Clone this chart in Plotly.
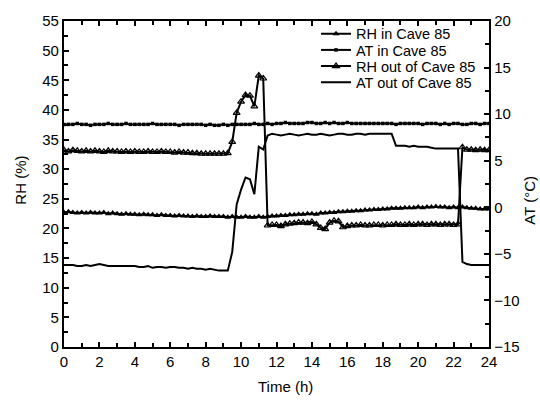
import plotly.graph_objects as go

# time axis (h), 15-min sampling
time_h = [i * 0.25 for i in range(97)]

rh_in = [22.7,22.8,22.7,22.6,22.7,22.6,22.7,22.6,22.6,22.7,22.5,22.6,
         22.5,22.4,22.5,22.4,22.4,22.3,22.4,22.3,22.3,22.2,22.3,22.2,
         22.2,22.1,22.2,22.1,22.1,22.0,22.1,22.0,22.0,22.1,22.0,22.0,
         22.0,21.9,22.0,21.9,21.9,22.0,21.9,21.9,22.0,21.9,22.0,22.1,
         22.1,22.2,22.2,22.3,22.3,22.4,22.4,22.5,22.5,22.4,22.6,22.6,
         22.7,22.7,22.8,22.8,22.9,22.9,23.0,23.0,23.1,23.1,23.2,23.2,
         23.3,23.3,23.4,23.4,23.4,23.5,23.5,23.5,23.6,23.5,23.6,23.6,
         23.7,23.6,23.6,23.5,23.6,23.5,23.6,23.5,23.4,23.4,23.3,23.3,23.3]

at_in = [8.9,8.9,8.9,9.0,8.9,8.9,8.8,8.9,8.9,8.9,9.0,8.9,
         8.9,8.9,9.0,8.9,8.9,8.9,8.9,8.9,9.0,8.9,8.9,8.9,
         8.9,8.9,8.8,8.9,8.9,8.9,8.9,8.9,8.8,8.9,8.8,8.8,
         8.9,8.8,8.9,8.9,8.9,8.9,8.9,9.0,8.9,8.9,9.0,8.9,
         9.0,9.0,9.1,9.0,9.0,9.0,9.0,9.1,9.1,9.0,9.0,9.1,
         9.0,9.1,9.0,9.0,9.1,9.0,9.0,9.0,9.0,9.0,9.0,9.0,
         9.0,9.0,9.0,8.9,9.0,9.0,9.0,9.0,9.0,8.9,9.0,9.0,
         9.0,8.9,9.0,8.9,9.0,9.0,8.9,8.9,9.0,9.0,8.9,9.0,9.0]

rh_out = [33.2,33.0,33.2,33.1,33.0,33.1,33.0,33.1,33.0,32.9,33.1,33.0,
          33.0,32.9,33.0,32.9,33.0,32.9,32.9,33.0,32.9,32.9,33.0,32.9,
          32.9,32.8,32.9,32.8,32.8,32.7,32.7,32.6,32.6,32.6,32.6,32.6,
          32.6,32.7,34.6,39.5,41.4,42.5,42.4,40.6,45.8,45.3,20.5,20.6,
          20.6,20.4,20.7,20.8,20.9,21.0,21.0,20.9,21.1,20.7,20.1,19.9,
          21.0,21.3,21.2,20.2,20.4,20.5,20.5,20.6,20.5,20.5,20.6,20.6,
          20.5,20.6,20.6,20.7,20.6,20.6,20.7,20.6,20.7,20.7,20.6,20.7,
          20.7,20.6,20.7,20.7,20.6,20.7,33.7,33.3,33.3,33.2,33.3,33.2,33.2]

at_out = [-6.2,-6.2,-6.2,-6.3,-6.3,-6.2,-6.3,-6.2,-6.1,-6.2,-6.3,-6.3,
          -6.3,-6.3,-6.3,-6.3,-6.3,-6.4,-6.4,-6.3,-6.5,-6.4,-6.4,-6.5,
          -6.4,-6.4,-6.5,-6.5,-6.6,-6.5,-6.6,-6.6,-6.7,-6.6,-6.7,-6.8,
          -6.8,-6.8,-4.8,0.3,1.9,3.2,3.0,1.4,6.5,6.2,7.7,7.9,
          7.8,7.7,7.8,7.9,7.8,7.7,7.8,7.9,7.8,7.8,7.9,7.8,
          7.7,7.8,7.9,7.9,7.8,7.8,7.9,7.9,7.8,7.9,7.9,7.9,
          7.9,7.9,7.9,6.6,6.6,6.6,6.5,6.6,6.5,6.5,6.5,6.4,
          6.3,6.3,6.3,6.3,6.3,6.3,-5.85,-6.1,-6.2,-6.2,-6.2,-6.2,-6.2]

FONT = "Arial, Liberation Sans, sans-serif"
LW = 2

fig = go.Figure()
fig.add_trace(go.Scatter(x=time_h, y=rh_in, name="RH in Cave 85", mode="lines+markers",
                         legend="legend",
                         line=dict(color="black", width=LW),
                         marker=dict(symbol="triangle-up", size=6, color="black")))
fig.add_trace(go.Scatter(x=time_h, y=at_in, name="AT in Cave 85", mode="lines+markers", yaxis="y2",
                         legend="legend2",
                         line=dict(color="black", width=LW),
                         marker=dict(symbol="square", size=3.5, color="black")))
fig.add_trace(go.Scatter(x=time_h, y=rh_out, name="RH out of Cave 85", mode="lines+markers",
                         legend="legend3",
                         line=dict(color="black", width=LW),
                         marker=dict(symbol="triangle-up-open", size=6, color="black",
                                     line=dict(width=1.2, color="black"))))
fig.add_trace(go.Scatter(x=time_h, y=at_out, name="AT out of Cave 85", mode="lines", yaxis="y2",
                         legend="legend4",
                         line=dict(color="black", width=LW)))

axis_common = dict(showline=True, linecolor="black", linewidth=2.3, ticks="inside",
                   tickcolor="black", tickwidth=2, ticklen=5, showgrid=False, zeroline=False,
                   tickfont=dict(family=FONT, size=15, color="black"))
minor_common = dict(ticks="inside", ticklen=3.5, tickcolor="black", tickwidth=2)

leg_x = 0.593
def leg(y):
    return dict(x=leg_x, y=y, xanchor="left", yanchor="middle", bgcolor="rgba(0,0,0,0)",
                font=dict(family=FONT, size=14.5, color="black"), itemwidth=30,
                borderwidth=0)

title_font = dict(family=FONT, size=15, color="black")

fig.update_layout(
    width=540, height=401,
    margin=dict(l=63.5, r=51, t=15, b=54),
    paper_bgcolor="white", plot_bgcolor="white",
    font=dict(family=FONT, color="black"),
    xaxis=dict(range=[0, 24], tickvals=list(range(0, 25, 2)), mirror="ticks",
               minor=dict(dtick=1, **minor_common), **axis_common),
    yaxis=dict(range=[0, 55], dtick=5, minor=dict(dtick=2.5, **minor_common), **axis_common),
    yaxis2=dict(range=[-15, 20], dtick=5, overlaying="y", side="right",
                minor=dict(dtick=2.5, **minor_common), **axis_common),
    legend=leg(0.9608),
    legend2=leg(0.9111),
    legend3=leg(0.8614),
    legend4=leg(0.8117),
    showlegend=True,
    annotations=[
        dict(text="Time (h)", xref="paper", yref="paper", x=0.5217, y=-0.1205,
             xanchor="center", yanchor="middle", showarrow=False, font=title_font),
        dict(text="RH (%)", xref="paper", yref="paper", x=-0.1022, y=0.512, textangle=-90,
             xanchor="center", yanchor="middle", showarrow=False, font=title_font),
        dict(text="AT (°C)", xref="paper", yref="paper", x=1.0964, y=0.4518, textangle=-90,
             xanchor="center", yanchor="middle", showarrow=False, font=title_font),
    ],
)

fig.write_html("out.html")
